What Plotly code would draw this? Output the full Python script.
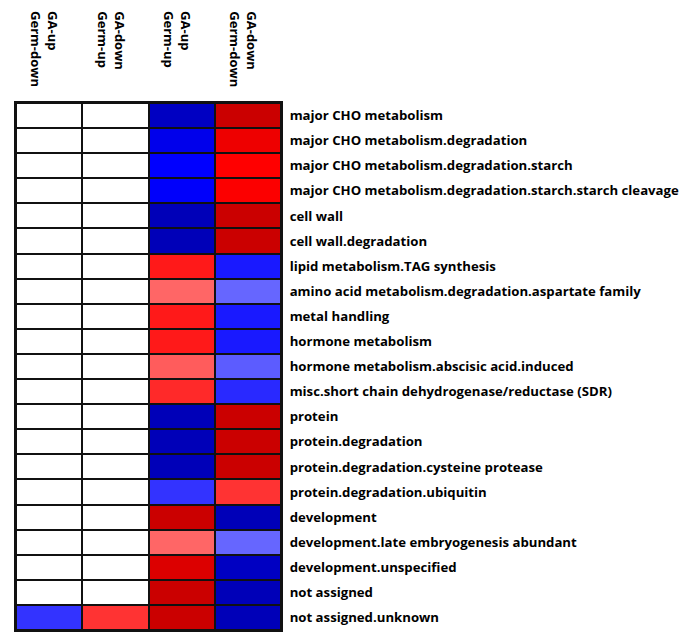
import plotly.graph_objects as go

columns = ["GA-up<br>Germ-down", "GA-down<br>Germ-up", "GA-up<br>Germ-up", "GA-down<br>Germ-down"]
categories = [
    "major CHO metabolism",
    "major CHO metabolism.degradation",
    "major CHO metabolism.degradation.starch",
    "major CHO metabolism.degradation.starch.starch cleavage",
    "cell wall",
    "cell wall.degradation",
    "lipid metabolism.TAG synthesis",
    "amino acid metabolism.degradation.aspartate family",
    "metal handling",
    "hormone metabolism",
    "hormone metabolism.abscisic acid.induced",
    "misc.short chain dehydrogenase/reductase (SDR)",
    "protein",
    "protein.degradation",
    "protein.degradation.cysteine protease",
    "protein.degradation.ubiquitin",
    "development",
    "development.late embryogenesis abundant",
    "development.unspecified",
    "not assigned",
    "not assigned.unknown",
]
ga_up_germ_down = [0]*20 + [-0.4]
ga_down_germ_up = [0]*20 + [0.4]
ga_up_germ_up = [-0.8, -0.6, -0.5, -0.52, -0.85, -0.85, 0.45, 0.3, 0.45, 0.45, 0.32, 0.42,
                 -0.85, -0.85, -0.85, -0.4, 0.8, 0.3, 0.7, 0.8, 0.8]
ga_down_germ_down = [0.8, 0.6, 0.5, 0.52, 0.8, 0.8, -0.45, -0.3, -0.45, -0.45, -0.32, -0.42,
                     0.8, 0.8, 0.8, 0.4, -0.85, -0.3, -0.8, -0.85, -0.85]

z = [[a, b, c, d] for a, b, c, d in zip(ga_up_germ_down, ga_down_germ_up, ga_up_germ_up, ga_down_germ_down)]

colorscale = [
    [0.0, "#00009a"],
    [0.25, "#0000ff"],
    [0.5, "#ffffff"],
    [0.75, "#ff0000"],
    [1.0, "#a80000"],
]

fig = go.Figure(go.Heatmap(
    z=z, x=list(range(len(columns))), y=categories,
    colorscale=colorscale, zmin=-1, zmax=1, showscale=False,
    xgap=2, ygap=2, hoverinfo="skip",
))

for i, c in enumerate(columns):
    fig.add_annotation(
        x=i, y=1.178, xref="x", yref="paper", text=c, textangle=90,
        showarrow=False, xanchor="center", yanchor="top", align="left", xshift=-4,
        font=dict(family="Open Sans", size=13, color="black", weight="bold"),
    )

fig.update_layout(
    width=685, height=636,
    margin=dict(l=16, r=404, t=103, b=6, autoexpand=False),
    paper_bgcolor="white", plot_bgcolor="#111111",
    showlegend=False,
)
fig.update_xaxes(showticklabels=False, ticks="", showgrid=False, zeroline=False,
                 showline=True, linecolor="#111111", linewidth=2, mirror=True,
                 range=[-0.5, 3.5], automargin=False)
fig.update_yaxes(side="right", autorange="reversed", ticks="", showgrid=False, zeroline=False,
                 showline=True, linecolor="#111111", linewidth=2, mirror=True,
                 ticklabelstandoff=4, automargin=False,
                 tickfont=dict(family="Open Sans", size=13.2, color="black", weight="bold"))

fig.write_html("out.html", post_script="document.body.style.margin='0';",
               config={"displayModeBar": False})
